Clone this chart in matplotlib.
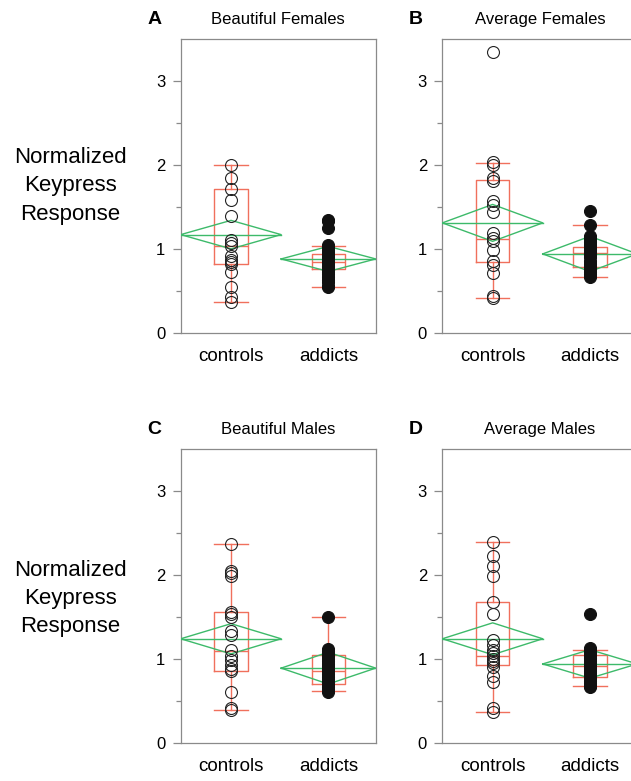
import matplotlib.pyplot as plt
import numpy as np

plt.rcParams['font.family'] = ['Liberation Sans', 'DejaVu Sans']

groups = ["controls", "addicts"]
titles = ["Beautiful Females", "Average Females", "Beautiful Males", "Average Males"]
letters = ["A", "B", "C", "D"]

# raw points
ctrl_A = [2.0, 1.85, 1.71, 1.58, 1.39, 1.11, 1.07, 1.03, 0.91, 0.87, 0.84, 0.82, 0.73, 0.54, 0.42, 0.37]
addi_A = [1.35, 1.33, 1.25, 1.05, 1.02, 0.99, 0.96, 0.93, 0.90, 0.87, 0.85, 0.83, 0.80, 0.78,
          0.76, 0.73, 0.70, 0.67, 0.63, 0.60, 0.56, 0.54]
ctrl_B = [3.35, 2.04, 2.0, 1.85, 1.81, 1.57, 1.52, 1.44, 1.19, 1.13, 1.09, 0.99, 0.85, 0.81, 0.71, 0.44, 0.41]
addi_B = [1.45, 1.29, 1.15, 1.12, 1.08, 1.05, 1.02, 0.99, 0.96, 0.93, 0.90, 0.86, 0.82, 0.79,
          0.76, 0.73, 0.70, 0.67]
ctrl_C = [2.37, 2.05, 2.02, 1.99, 1.56, 1.53, 1.50, 1.33, 1.29, 1.11, 1.04, 0.99, 0.93, 0.88, 0.86,
          0.61, 0.42, 0.39]
addi_C = [1.50, 1.12, 1.09, 1.06, 1.03, 1.00, 0.97, 0.94, 0.91, 0.88, 0.85, 0.82, 0.79, 0.76,
          0.73, 0.70, 0.67, 0.64, 0.61]
ctrl_D = [2.40, 2.23, 2.11, 1.99, 1.68, 1.53, 1.22, 1.16, 1.11, 1.07, 1.03, 1.00, 0.98, 0.95, 0.90,
          0.80, 0.73, 0.41, 0.37]
addi_D = [1.54, 1.13, 1.10, 1.07, 1.04, 1.01, 0.98, 0.95, 0.92, 0.89, 0.86, 0.83, 0.80, 0.77,
          0.74, 0.71, 0.68, 0.66]
points = [(ctrl_A, addi_A), (ctrl_B, addi_B), (ctrl_C, addi_C), (ctrl_D, addi_D)]

# box plot stats (whislo, q1, med, q3, whishi) per panel, per group
box_stats = [
    [(0.37, 0.82, 1.04, 1.71, 2.00), (0.55, 0.76, 0.84, 0.94, 1.04)],
    [(0.41, 0.84, 1.12, 1.82, 2.02), (0.665, 0.78, 0.95, 1.02, 1.29)],
    [(0.39, 0.86, 1.10, 1.56, 2.37), (0.62, 0.70, 0.86, 1.05, 1.50)],
    [(0.37, 0.93, 1.03, 1.68, 2.40), (0.68, 0.78, 0.91, 1.05, 1.11)],
]
# means diamonds (mean, half CI)
means = [[1.17, 0.17], [0.88, 0.15]], [[1.31, 0.22], [0.94, 0.21]], \
        [[1.24, 0.18], [0.89, 0.19]], [[1.24, 0.19], [0.94, 0.17]]

# group extents along x (JMP style: width ~ group size)
edges = [0.0, 0.515, 1.0]
centers = [0.258, 0.757]

red = '#f0705c'
green = '#3dba6a'
grey = '#8a8a8a'

fig = plt.figure(figsize=(6.31, 7.81), dpi=100)
lefts = [0.2864, 0.701, 0.2864, 0.701]
bottoms = [0.574, 0.574, 0.049, 0.049]

for i in range(4):
    ax = fig.add_axes([lefts[i], bottoms[i], 0.309, 0.3757])
    for g in range(2):
        lo, q1, med, q3, hi = box_stats[i][g]
        stats = [dict(whislo=lo, q1=q1, med=med, q3=q3, whishi=hi, fliers=[])]
        ax.bxp(stats, positions=[centers[g]], widths=0.17, showfliers=False,
               manage_ticks=False,
               boxprops=dict(color=red, lw=1.0), whiskerprops=dict(color=red, lw=1.0),
               capprops=dict(color=red, lw=1.0), medianprops=dict(color=red, lw=1.0),
               capwidths=0.17)
        m, ci = means[i][g]
        x0, x1 = edges[g], edges[g + 1]
        xc = centers[g]
        ax.plot([x0, xc, x1, xc, x0], [m, m + ci, m, m - ci, m], color=green, lw=1.0, zorder=3)
        ax.plot([x0, x1], [m, m], color=green, lw=1.0, zorder=3)
        vals = points[i][g]
        if g == 0:
            ax.plot([xc] * len(vals), vals, 'o', ms=8.6, mfc='none', mec='#222222', mew=0.8, zorder=4)
        else:
            ax.plot([xc] * len(vals), vals, 'o', ms=8.6, mfc='#111111', mec='#111111', mew=0.8, zorder=4)

    ax.set_xlim(0, 1)
    ax.set_ylim(0, 3.5)
    ax.set_yticks([0, 1, 2, 3])
    ax.set_yticks([0.5, 1.5, 2.5], minor=True)
    ax.set_xticks(centers)
    ax.set_xticklabels(groups, fontsize=13.5)
    ax.tick_params(axis='x', length=0, pad=11)
    ax.tick_params(axis='y', which='major', length=6, width=0.9, color=grey, labelsize=12, pad=5)
    ax.tick_params(axis='y', which='minor', length=3.5, width=0.9, color=grey)
    for s in ax.spines.values():
        s.set_color(grey)
        s.set_linewidth(0.9)
    ax.set_title(titles[i], fontsize=12, pad=11)
    ax.text(-0.17, 1.052, letters[i], transform=ax.transAxes, fontsize=14, fontweight='bold',
            va='baseline', ha='left')
    ax.patch.set_alpha(0)

for yc in [0.762, 0.234]:
    fig.text(0.111, yc, "Normalized\nKeypress\nResponse", fontsize=16, ha='center', va='center',
             linespacing=1.45)

fig.savefig('out.png', dpi=100)
